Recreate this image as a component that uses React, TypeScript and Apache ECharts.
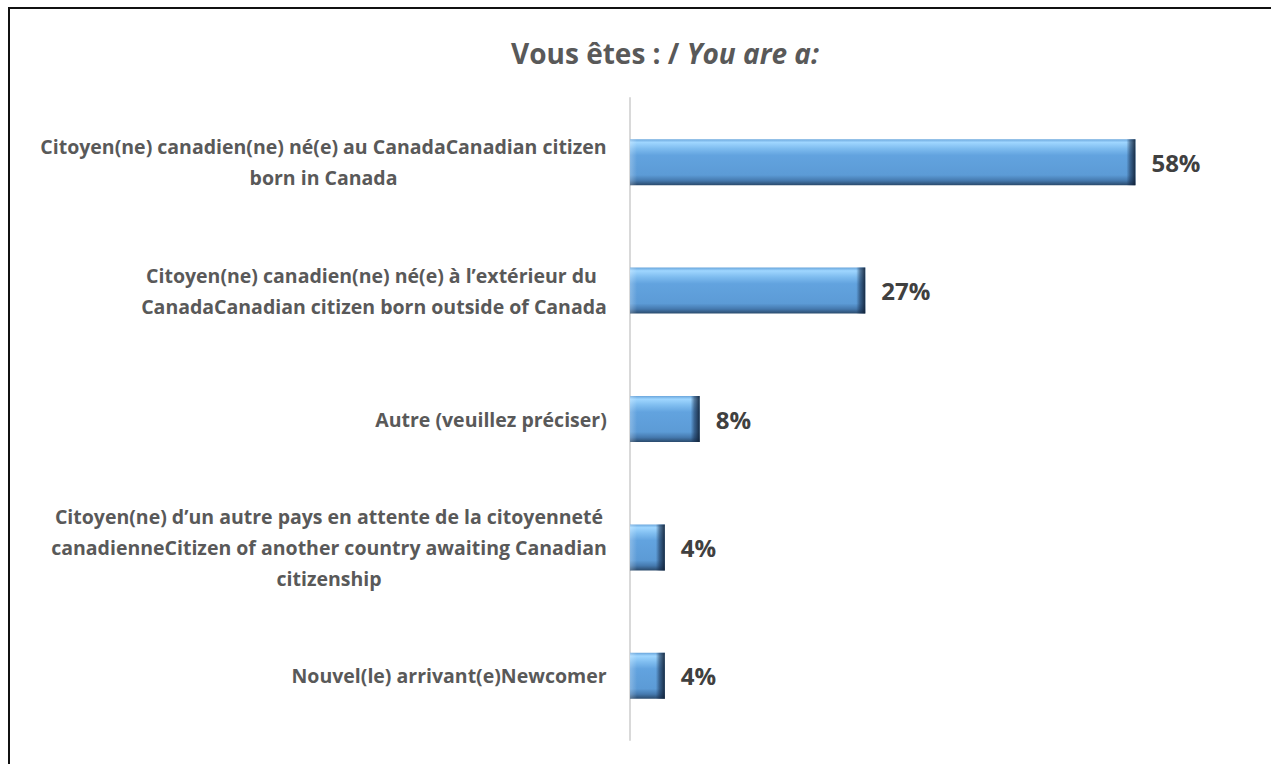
import React, { useEffect, useRef } from "react";
import * as echarts from "echarts";

const titleMain = "Vous êtes : / ";
const titleItalic = "You are a:";
const categories = [
  "Citoyen(ne) canadien(ne) né(e) au CanadaCanadian citizen\nborn in Canada",
  "Citoyen(ne) canadien(ne) né(e) à l’extérieur du \nCanadaCanadian citizen born outside of Canada",
  "Autre (veuillez préciser)",
  "Citoyen(ne) d’un autre pays en attente de la citoyenneté\ncanadienneCitizen of another country awaiting Canadian\ncitizenship",
  "Nouvel(le) arrivant(e)Newcomer",
];
const values = [58, 27, 8, 4, 4];

const FONT = "'Open Sans', 'Noto Sans', sans-serif";
const LABEL_SIZE = 19.5;
const GRID_LEFT = 630;
const GRID_RIGHT = 31;
const X_MAX = 70;
const W = 1271;
const H = 764;

function measure(text: string, size: number): number {
  const c = document.createElement("canvas");
  const ctx = c.getContext("2d")!;
  ctx.font = `bold ${size}px ${FONT}`;
  return ctx.measureText(text).width;
}

export default function App() {
  const ref = useRef<HTMLDivElement>(null);
  useEffect(() => {
    if (!ref.current) return;
    const chart = echarts.init(ref.current, undefined, { renderer: "svg" });
    const pxPerUnit = (W - GRID_LEFT - GRID_RIGHT) / X_MAX;

    const rich: Record<string, any> = {};
    categories.forEach((cat, i) => {
      const lines = cat.split("\n");
      const w = Math.ceil(Math.max(...lines.map((l) => measure(l, LABEL_SIZE)))) + 2;
      rich["r" + i] = {
        width: w,
        align: "center",
        fontFamily: FONT,
        fontWeight: "bold",
        fontSize: LABEL_SIZE,
        color: "#595959",
        lineHeight: 31,
      };
    });

    const mainGrad = new echarts.graphic.LinearGradient(0, 0, 0, 1, [
      { offset: 0, color: "#6aa6dc" },
      { offset: 0.07, color: "#9fd6ff" },
      { offset: 0.2, color: "#7fbdf0" },
      { offset: 0.35, color: "#62a3df" },
      { offset: 0.78, color: "#5c9bd6" },
      { offset: 0.9, color: "#4579ae" },
      { offset: 1, color: "#2a4a6c" },
    ]);

    const overlayData = values.map((v) => {
      const px = v * pxPerUnit;
      const endStop = Math.max(0, 1 - 9 / px);
      const startStop = Math.min(0.5, 7 / px);
      return {
        value: v,
        itemStyle: {
          color: new echarts.graphic.LinearGradient(0, 0, 1, 0, [
            { offset: 0, color: "rgba(255,255,255,0.25)" },
            { offset: startStop, color: "rgba(255,255,255,0)" },
            { offset: endStop, color: "rgba(20,40,70,0)" },
            { offset: Math.min(1, endStop + (1 - endStop) * 0.4), color: "rgba(20,40,70,0.5)" },
            { offset: 1, color: "rgba(15,30,50,0.9)" },
          ]),
        },
      };
    });

    chart.setOption({
      animation: false,
      backgroundColor: "transparent",
      title: {
        text: `{a|${titleMain}}{b|${titleItalic}}`,
        left: 660,
        textAlign: "center",
        top: 34,
        textStyle: {
          rich: {
            a: { fontFamily: FONT, fontWeight: "bold", fontSize: 28, color: "#595959" },
            b: { fontFamily: FONT, fontWeight: "bold", fontStyle: "italic", fontSize: 28, color: "#595959" },
          },
        },
      },
      grid: { left: GRID_LEFT, right: GRID_RIGHT, top: 98, bottom: H - 740, containLabel: false },
      xAxis: {
        type: "value",
        min: 0,
        max: X_MAX,
        show: false,
        splitLine: { show: false },
      },
      yAxis: {
        type: "category",
        inverse: true,
        data: categories,
        axisLine: { show: true, lineStyle: { color: "#d9d9d9", width: 2 } },
        axisTick: { show: false },
        axisLabel: {
          margin: 22,
          formatter: (val: string, idx: number) =>
            val
              .split("\n")
              .map((l) => `{r${idx}|${l}}`)
              .join("\n"),
          rich,
        },
      },
      series: [
        {
          type: "bar",
          data: values,
          barWidth: 46,
          itemStyle: { color: mainGrad },
          label: {
            show: true,
            position: "right",
            distance: 16,
            formatter: "{c}%",
            fontFamily: FONT,
            fontWeight: "bold",
            fontSize: 24,
            color: "#404040",
          },
          z: 2,
        },
        {
          type: "bar",
          data: overlayData,
          barWidth: 46,
          barGap: "-100%",
          silent: true,
          z: 3,
        },
      ],
    });
    return () => chart.dispose();
  }, []);

  return (
    <div style={{ position: "fixed", left: 0, top: 0, width: W, height: H, background: "#fff", overflow: "hidden" }}>
      <div ref={ref} style={{ position: "absolute", left: 0, top: 0, width: W, height: H }} />
      <div
        style={{
          position: "absolute",
          left: 8,
          top: 7,
          width: 3000,
          height: 3000,
          borderLeft: "2px solid #111",
          borderTop: "2px solid #111",
          pointerEvents: "none",
        }}
      />
    </div>
  );
}
